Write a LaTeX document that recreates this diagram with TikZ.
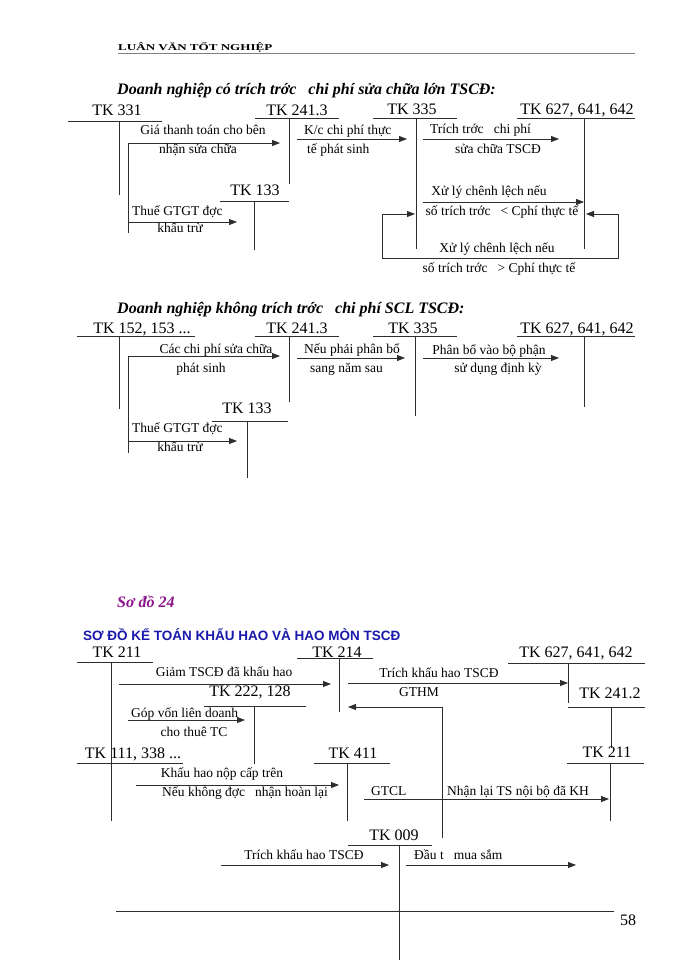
\documentclass[tikz,border=0pt]{standalone}
\usepackage{fontspec}
\setmainfont{Liberation Serif}
\setsansfont{Liberation Sans}
\usetikzlibrary{arrows.meta}
\definecolor{ln}{RGB}{45,45,45}
\definecolor{purp}{RGB}{140,20,140}
\definecolor{navy}{RGB}{25,25,170}
\newcommand\tacc[9]{%
  \node[acct] (#1) at (#3,#4) {#2};
  \coordinate (#1-l) at (#6,#5); \coordinate (#1-r) at (#7,#5);
  \coordinate (#1-t) at (#8,#5); \coordinate (#1-b) at (#8,#9);
  \draw[tl] (#1-l) -- (#1-r); \draw[tl] (#1-t) -- (#1-b);}
\newcommand\arrw[4]{%
  \coordinate (#1-s) at (#2,#3); \coordinate (#1-e) at (#4,#3);
  \draw[arr] (#1-s) -- (#1-e);}
\begin{document}
\begin{tikzpicture}[x=1pt,y=-1pt,
  acct/.style={anchor=base,inner sep=0pt,font=\fontsize{16}{18}\selectfont},
  lbl/.style={anchor=base,inner sep=0pt,font=\fontsize{13.5}{15}\selectfont},
  lblw/.style={lbl,anchor=base west},
  tl/.style={draw=ln,line width=0.8pt},
  arr/.style={tl,-{Triangle[length=8pt,width=6pt]}},
  ttl/.style={anchor=base west,inner sep=0pt,font=\bfseries\itshape\fontsize{16}{18}\selectfont}]
\useasboundingbox[fill=white] (0,0) rectangle (700,960);

% header
\node[anchor=base west,inner sep=0pt,font=\bfseries\fontsize{9}{10}\selectfont] (hdr) at (118,51) {\scalebox{1.45}[1]{LUÂN VĂN TỐT NGHIỆP}};
\coordinate (hdrL) at (118,53); \coordinate (hdrR) at (635,53);
\draw[draw=gray,line width=0.6pt] (hdrL) -- (hdrR);

% ---------- diagram 1
\node[ttl] (t1) at (117,95) {Doanh nghiệp có trích trớc\ \ \ chi phí sửa chữa lớn TSCĐ:};
\tacc{a331}{TK 331}{117}{116}{121}{68}{162}{119}{195}
\tacc{a2413}{TK 241.3}{297}{116}{118}{255}{339}{289}{184}
\tacc{a335}{TK 335}{412}{115}{118}{373}{457}{416}{249}
\tacc{a627}{TK 627, 641, 642}{577}{115}{118}{517}{635}{584}{249}
\tacc{a133}{TK 133}{255}{195}{201}{220}{289}{254}{250}
\coordinate (b1t) at (128,143); \coordinate (b1b) at (128,233);
\draw[tl] (b1t) -- (b1b);
\arrw{r1}{128}{143}{280}
\arrw{r2}{128}{222}{237}
\arrw{r3}{297}{139}{407}
\arrw{r4}{423}{139}{559}
\arrw{r5}{423}{202}{584}
\coordinate (lp1) at (382,214); \coordinate (lp2) at (382,258);
\coordinate (lp3) at (618,258); \coordinate (lp4) at (618,214);
\coordinate (lp5) at (415,214); \coordinate (lp6) at (586,214);
\draw[tl] (lp1) -- (lp2) -- (lp3) -- (lp4);
\draw[arr] (lp1) -- (lp5);
\draw[arr] (lp4) -- (lp6);
\node[lbl] (l1a) at (203,135) {Giá thanh toán cho bên};
\node[lbl] (l1b) at (198,154) {nhận sửa chữa};
\node[lblw] (l2a) at (132,215) {Thuế GTGT đợc};
\node[lbl] (l2b) at (180,232) {khấu trừ};
\node[lblw] (l3a) at (304,135) {K/c chi phí thực};
\node[lblw] (l3b) at (307,154) {tế phát sinh};
\node[lblw] (l4a) at (430,134) {Trích trớc\ \ \ chi phí};
\node[lbl] (l4b) at (498,154) {sửa chữa TSCĐ};
\node[lbl] (l5a) at (489,195) {Xử lý chênh lệch nếu};
\node[lbl] (l5b) at (502,215) {số trích trớc\ \ \ < Cphí thực tế};
\node[lbl] (l6a) at (497,252) {Xử lý chênh lệch nếu};
\node[lbl] (l6b) at (499,272) {số trích trớc\ \ \ > Cphí thực tế};

% ---------- diagram 2
\node[ttl] (t2) at (117,313) {Doanh nghiệp không trích trớc\ \ \ chi phí SCL TSCĐ:};
\tacc{b152}{TK 152, 153 ...}{142}{333}{336}{77}{195}{119}{409}
\tacc{b2413}{TK 241.3}{297}{333}{336}{255}{339}{289}{402}
\tacc{b335}{TK 335}{413}{333}{336}{373}{457}{415}{416}
\tacc{b627}{TK 627, 641, 642}{577}{333}{336}{517}{635}{584}{407}
\tacc{b133}{TK 133}{247}{413}{421}{212}{288}{247}{478}
\coordinate (b2t) at (128,356); \coordinate (b2b) at (128,453);
\draw[tl] (b2t) -- (b2b);
\arrw{s1}{128}{356}{280}
\arrw{s2}{128}{441}{237}
\arrw{s3}{297}{358}{405}
\arrw{s4}{423}{358}{559}
\node[lbl] (m1a) at (216,353) {Các chi phí sửa chữa};
\node[lbl] (m1b) at (201,372) {phát sinh};
\node[lblw] (m2a) at (132,432) {Thuế GTGT đợc};
\node[lbl] (m2b) at (180,451) {khấu trừ};
\node[lblw] (m3a) at (304,353) {Nếu phải phân bổ};
\node[lblw] (m3b) at (310,372) {sang năm sau};
\node[lbl] (m4a) at (489,354) {Phân bổ vào bộ phận};
\node[lbl] (m4b) at (498,372) {sử dụng định kỳ};

% ---------- diagram 3
\node[anchor=base west,inner sep=0pt,text=purp,font=\bfseries\itshape\fontsize{16}{18}\selectfont] (so24) at (117,607) {Sơ đồ 24};
\node[anchor=base west,inner sep=0pt,text=navy,font=\sffamily\bfseries\fontsize{13.5}{15}\selectfont] (t3) at (83,640) {SƠ ĐỒ KẾ TOÁN KHẤU HAO VÀ HAO MÒN TSCĐ};
\tacc{c211}{TK 211}{117}{657}{662}{77}{153}{111}{821}
\tacc{c214}{TK 214}{337}{657}{658}{297}{373}{339}{712}
\tacc{c627}{TK 627, 641, 642}{576}{657}{663}{508}{645}{568}{703}
\tacc{c2412}{TK 241.2}{610}{698}{707}{568}{645}{611}{748}
\tacc{c222}{TK 222, 128}{250}{696}{706}{204}{306}{254}{764}
\tacc{c111}{TK 111, 338 ...}{133}{758}{763}{77}{183}{111}{763}
\tacc{c411}{TK 411}{353}{758}{763}{314}{390}{347}{821}
\tacc{c211b}{TK 211}{607}{757}{763}{567}{644}{610}{821}
\tacc{c009}{TK 009}{394}{840}{845}{348}{432}{399}{960}
\arrw{u1}{119}{684}{331}
\arrw{u2}{348}{683}{568}
\coordinate (g1) at (442,838); \coordinate (g2) at (442,707); \coordinate (g3) at (348,707);
\draw[arr] (g1) -- (g2) -- (g3);
\arrw{u4}{128}{720}{245}
\arrw{u5}{136}{785}{339}
\arrw{u6}{364}{799}{609}
\arrw{u7}{221}{865}{389}
\arrw{u8}{406}{865}{576}
\node[lbl] (n1) at (224,676) {Giảm TSCĐ đã khấu hao};
\node[lbl] (n2) at (439,677) {Trích khấu hao TSCĐ};
\node[lbl] (n3) at (419,696) {GTHM};
\node[lblw] (n4) at (131,717) {Góp vốn liên doanh};
\node[lbl] (n5) at (194,736) {cho thuê TC};
\node[lbl] (n6) at (222,777) {Khấu hao nộp cấp trên};
\node[lbl] (n7) at (245,796) {Nếu không đợc\ \ \ nhận hoàn lại};
\node[lblw] (n8) at (371,795) {GTCL};
\node[lblw] (n9) at (447,795) {Nhận lại TS nội bộ đã KH};
\node[lbl] (n10) at (304,859) {Trích khấu hao TSCĐ};
\node[lblw] (n11) at (414,859) {Đầu t\ \ \ mua sắm};

% footer
\coordinate (ftL) at (116,911); \coordinate (ftR) at (614,911);
\draw[tl] (ftL) -- (ftR);
\node[acct] (pg) at (628,925) {58};
\end{tikzpicture}
\end{document}
